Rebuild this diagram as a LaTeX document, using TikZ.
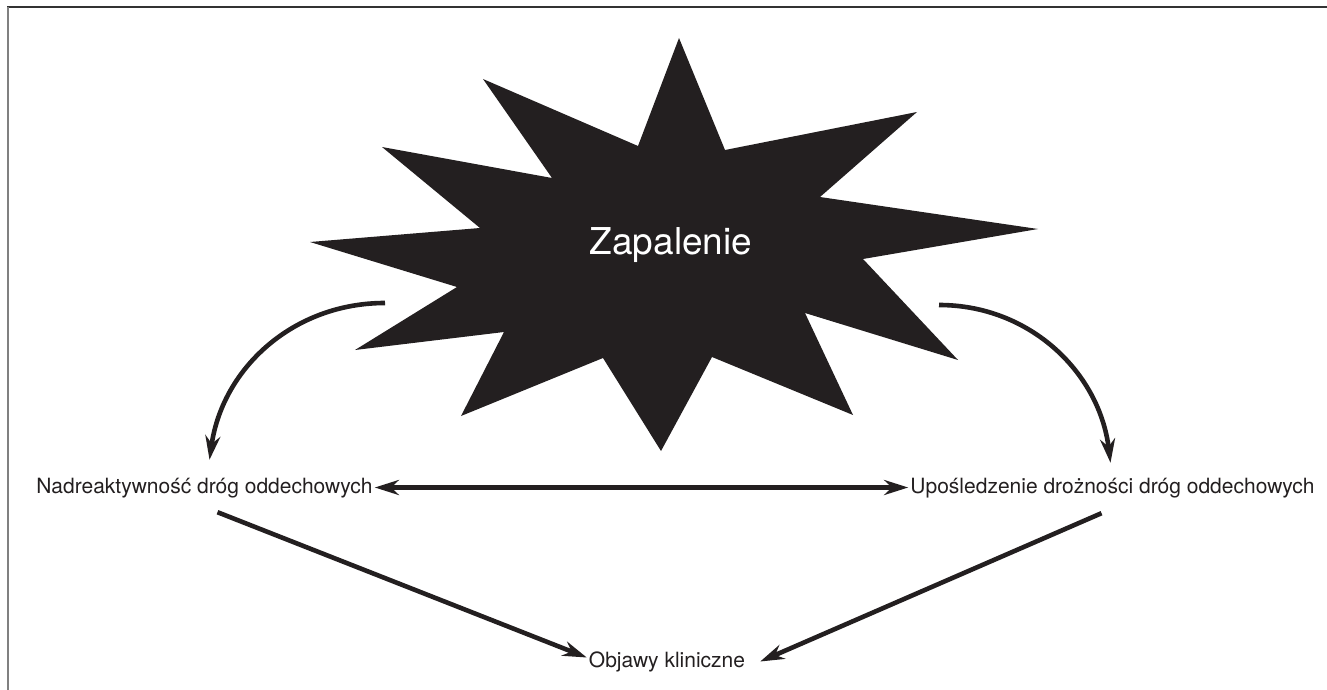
\documentclass[tikz,border=0pt]{standalone}
\usepackage{fontspec}
\setmainfont{TeX Gyre Heros}
\usetikzlibrary{arrows.meta}
\definecolor{ink}{RGB}{35,31,32}
\begin{document}
\begin{tikzpicture}[
        x=1pt, y=1pt,
        label/.style={text=ink, font=\fontsize{21}{24}\selectfont, inner sep=2pt,
            text height=16pt, text depth=5pt, anchor=base},
        burst/.style={text=white, font=\fontsize{37}{40}\selectfont, inner sep=0pt, anchor=base},
        arrow/.style={-{Stealth[length=24pt, width=15pt]}, line width=4.6pt, draw=ink},
        dblarrow/.style={{Stealth[length=24pt, width=15pt]}-{Stealth[length=24pt, width=15pt]}, line width=4.6pt, draw=ink}
    ]
        \useasboundingbox (0,0) rectangle (1327,-690);
        % frame
        \draw[line width=2pt, draw=black!80] (7,-7) -- (1327,-7);
        \draw[line width=2pt, draw=black!50] (8,-7) -- (8,-690);

        % burst shape
        \fill[ink] (679,-38) -- (725,-150) -- (917,-112) -- (820,-197)
            -- (1038,-229) -- (863,-259) -- (958,-360) -- (805,-313)
            -- (853,-415) -- (712,-357) -- (661,-451) -- (603,-358)
            -- (461,-416) -- (504,-332) -- (355,-350) -- (457,-287)
            -- (310,-242) -- (480,-228) -- (382,-147) -- (552,-178)
            -- (483,-79) -- (638,-146) -- cycle;
        \node[burst] (zap) at (671,-254) {Zapalenie};

        % labels
        \node[label] (nadr) at (204.5,-493) {Nadreaktywność dróg oddechowych};
        \node[label] (upos) at (1112.5,-493) {Upośledzenie drożności dróg oddechowych};
        \node[label] (objawy) at (667,-667) {Objawy kliniczne};

        \coordinate (lstart) at (385,-303);
        \coordinate (rstart) at (939,-305);

        % connectors
        \draw[arrow] (lstart) to[out=180, in=82] ([xshift=5pt, yshift=15pt]nadr.north);
        \draw[arrow] (rstart) to[out=0, in=97] ([xshift=-2pt, yshift=12pt]upos.north);
        \draw[dblarrow] (nadr.east) -- (upos.west);
        \draw[arrow] ([xshift=13pt, yshift=-12pt]nadr.south) -- ([yshift=4pt]objawy.west);
        \draw[arrow] ([xshift=-11pt, yshift=-13pt]upos.south) -- ([xshift=13pt, yshift=0pt]objawy.east);
    \end{tikzpicture}
\end{document}
